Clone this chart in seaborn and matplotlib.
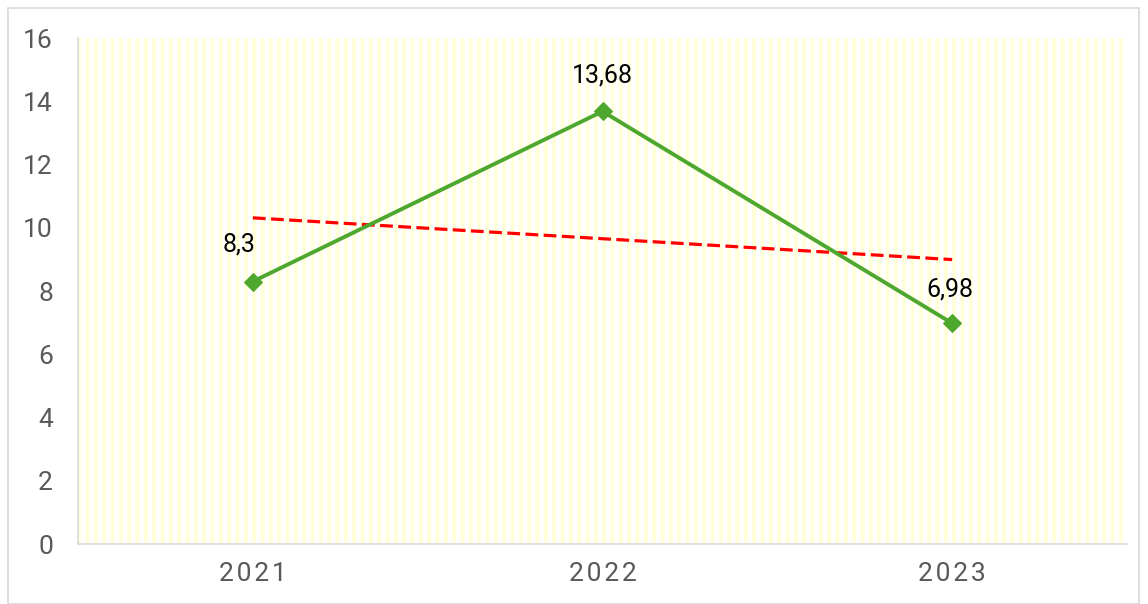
import matplotlib
matplotlib.use("Agg")
import matplotlib.pyplot as plt
import seaborn as sns
import numpy as np
import pandas as pd
from matplotlib.patches import Rectangle

years = ["2021", "2022", "2023"]
values = [8.3, 13.68, 6.98]
labels = ["8,3", "13,68", "6,98"]
yticks = [0, 2, 4, 6, 8, 10, 12, 14, 16]

sns.set_theme(style="white")
plt.rcParams['font.family'] = ['Roboto', 'DejaVu Sans']
plt.rcParams['hatch.linewidth'] = 2.9

df = pd.DataFrame({"year": years, "value": values})
x = np.arange(len(years))

fig = plt.figure(figsize=(11.48, 6.04), dpi=100)
ax = fig.add_axes([78/1148, 1 - 544/604, (1127-78)/1148, (544-38)/604])

# striped background
bg = Rectangle((0, 0), 1, 1, transform=ax.transAxes, facecolor="white",
               edgecolor="#FFFFDA", hatch="||", linewidth=0, zorder=0)
ax.add_patch(bg)

green = "#4EA72E"
sns.lineplot(data=df, x="year", y="value", ax=ax, color=green, linewidth=2.8,
             marker="D", markersize=9, markeredgecolor=green, zorder=3, sort=False)

coef = np.polyfit(x, values, 1)
trend = np.polyval(coef, x)
ax.plot(x, trend, color="#FF0000", linestyle=(0, (4, 1.7)), linewidth=2.3, zorder=2)

offsets = [(-10, 27), (0, 26), (-2, 24)]
for xi, v, lab, off in zip(x, values, labels, offsets):
    ax.annotate(lab, (xi, v), xytext=off, textcoords="offset points",
                ha="center", va="center", fontsize=18, color="black")

ax.set_xlim(-0.5, 2.5)
ax.set_ylim(0, 16)
ax.set_yticks(yticks)
ax.set_yticklabels([str(t) for t in yticks])
ax.set_xticks(x)
ax.set_xticklabels(["\u200a".join(y) for y in years])
ax.tick_params(axis="y", labelsize=19, colors="#595959", length=0, pad=18)
ax.tick_params(axis="x", labelsize=19, colors="#595959", length=0, pad=13)
ax.set_xlabel("")
ax.set_ylabel("")
for s in ["top", "right"]:
    ax.spines[s].set_visible(False)
for s in ["left", "bottom"]:
    ax.spines[s].set_color("#D9D9D9")
    ax.spines[s].set_linewidth(1.2)

fig.patches.append(Rectangle((8/1148, 0), 1131/1148, 1 - 8/604, transform=fig.transFigure,
                             facecolor="none", edgecolor="#D9D9D9", linewidth=1.2))

fig.savefig("out.png", dpi=100)
